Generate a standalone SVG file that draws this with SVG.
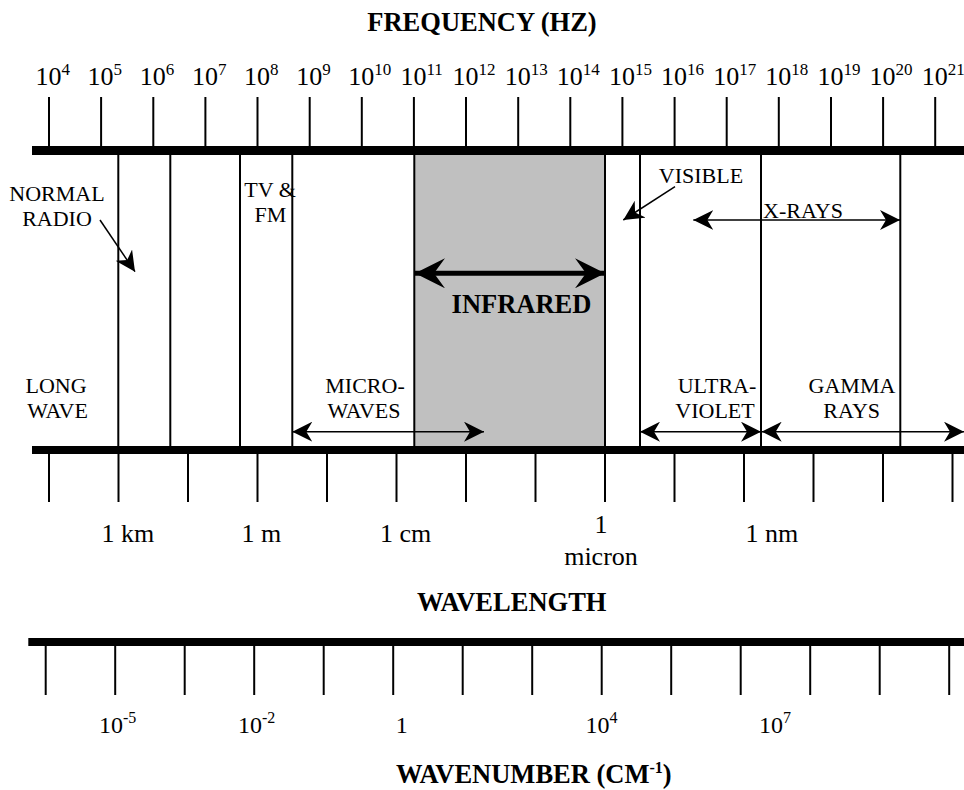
<svg xmlns="http://www.w3.org/2000/svg" width="964" height="790" viewBox="0 0 964 790">
<style>
.t{font-family:"Liberation Serif","Times New Roman",serif;fill:#000}
.lbl{font-size:22px;text-anchor:middle}
.num{font-size:26px}
.wn{font-size:24px}
.sup{font-size:17px}
.ttl{font-size:26.5px;font-weight:bold}
.tk{stroke:#000;stroke-width:2}
.bar{fill:#000}
.ln{stroke:#000;stroke-width:2}
.arr{stroke:#000;stroke-width:1.5;fill:none;marker-start:url(#ah);marker-end:url(#ah)}
.arr1{stroke:#000;stroke-width:1.5;fill:none;marker-end:url(#ah)}
.arrb{stroke:#000;stroke-width:5;fill:none;marker-start:url(#ahb);marker-end:url(#ahb)}
</style>
<defs>
<marker id="ah" viewBox="0 0 20 20" refX="20" refY="10" markerWidth="20" markerHeight="20" markerUnits="userSpaceOnUse" orient="auto-start-reverse">
<path d="M20,10 L0,0 L6,10 L0,20 Z" fill="#000"/>
</marker>
<marker id="ahb" viewBox="0 0 30 30" refX="30" refY="15" markerWidth="30" markerHeight="30" markerUnits="userSpaceOnUse" orient="auto-start-reverse">
<path d="M30,15 L0,0 L11,15 L0,30 Z" fill="#000"/>
</marker>
</defs>
<rect width="964" height="790" fill="#fff"/>

<g id="infrared-band">
<rect x="414" y="155" width="191" height="291" fill="#c0c0c0"/>
</g>

<g id="frequency-axis">
<text class="t ttl" x="482" y="31" text-anchor="middle">FREQUENCY (HZ)</text>
<rect class="bar" x="32" y="146" width="932" height="9"/>
<g class="tk">
<line x1="49" y1="97" x2="49" y2="146"/>
<line x1="101.1" y1="97" x2="101.1" y2="146"/>
<line x1="153.3" y1="97" x2="153.3" y2="146"/>
<line x1="205.4" y1="97" x2="205.4" y2="146"/>
<line x1="257.5" y1="97" x2="257.5" y2="146"/>
<line x1="309.7" y1="97" x2="309.7" y2="146"/>
<line x1="361.8" y1="97" x2="361.8" y2="146"/>
<line x1="413.9" y1="97" x2="413.9" y2="146"/>
<line x1="466" y1="97" x2="466" y2="146"/>
<line x1="518.2" y1="97" x2="518.2" y2="146"/>
<line x1="570.3" y1="97" x2="570.3" y2="146"/>
<line x1="622.4" y1="97" x2="622.4" y2="146"/>
<line x1="674.6" y1="97" x2="674.6" y2="146"/>
<line x1="726.7" y1="97" x2="726.7" y2="146"/>
<line x1="778.8" y1="97" x2="778.8" y2="146"/>
<line x1="831" y1="97" x2="831" y2="146"/>
<line x1="883.1" y1="97" x2="883.1" y2="146"/>
<line x1="935.2" y1="97" x2="935.2" y2="146"/>
</g>
<g class="t num">
<text x="35.5" y="84.5">10<tspan class="sup" dy="-10">4</tspan></text>
<text x="87.6" y="84.5">10<tspan class="sup" dy="-10">5</tspan></text>
<text x="139.8" y="84.5">10<tspan class="sup" dy="-10">6</tspan></text>
<text x="191.9" y="84.5">10<tspan class="sup" dy="-10">7</tspan></text>
<text x="244" y="84.5">10<tspan class="sup" dy="-10">8</tspan></text>
<text x="296.2" y="84.5">10<tspan class="sup" dy="-10">9</tspan></text>
<text x="348.3" y="84.5">10<tspan class="sup" dy="-10">10</tspan></text>
<text x="400.4" y="84.5">10<tspan class="sup" dy="-10">11</tspan></text>
<text x="452.5" y="84.5">10<tspan class="sup" dy="-10">12</tspan></text>
<text x="504.7" y="84.5">10<tspan class="sup" dy="-10">13</tspan></text>
<text x="556.8" y="84.5">10<tspan class="sup" dy="-10">14</tspan></text>
<text x="608.9" y="84.5">10<tspan class="sup" dy="-10">15</tspan></text>
<text x="661.1" y="84.5">10<tspan class="sup" dy="-10">16</tspan></text>
<text x="713.2" y="84.5">10<tspan class="sup" dy="-10">17</tspan></text>
<text x="765.3" y="84.5">10<tspan class="sup" dy="-10">18</tspan></text>
<text x="817.5" y="84.5">10<tspan class="sup" dy="-10">19</tspan></text>
<text x="869.6" y="84.5">10<tspan class="sup" dy="-10">20</tspan></text>
<text x="921.7" y="84.5">10<tspan class="sup" dy="-10">21</tspan></text>
</g>
</g>

<g id="band-dividers" class="ln">
<line x1="118.3" y1="155" x2="118.3" y2="446"/>
<line x1="170.3" y1="155" x2="170.3" y2="446"/>
<line x1="240" y1="155" x2="240" y2="446"/>
<line x1="292.3" y1="155" x2="292.3" y2="446"/>
<line x1="414.3" y1="155" x2="414.3" y2="446"/>
<line x1="605" y1="155" x2="605" y2="446"/>
<line x1="640" y1="155" x2="640" y2="446"/>
<line x1="761" y1="155" x2="761" y2="446"/>
<line x1="900.3" y1="155" x2="900.3" y2="446"/>
</g>

<g id="normal-radio"><text class="t lbl" x="57" y="201">NORMAL</text><text class="t lbl" x="57" y="226">RADIO</text></g>
<g id="tv-fm"><text class="t lbl" x="270" y="196.7">TV &amp;</text><text class="t lbl" x="270.5" y="221.7">FM</text></g>
<g id="visible"><text class="t lbl" x="701" y="182.7">VISIBLE</text></g>
<g id="x-rays"><text class="t lbl" x="803" y="218.3">X-RAYS</text></g>
<g id="infrared"><text class="t ttl" x="521.5" y="312.5" text-anchor="middle">INFRARED</text></g>
<g id="long-wave"><text class="t lbl" x="56" y="393.3">LONG</text><text class="t lbl" x="57.5" y="418.3">WAVE</text></g>
<g id="microwaves"><text class="t lbl" x="365" y="393.3">MICRO-</text><text class="t lbl" x="364" y="418.3">WAVES</text></g>
<g id="ultraviolet"><text class="t lbl" x="717" y="393.3">ULTRA-</text><text class="t lbl" x="715" y="418.3">VIOLET</text></g>
<g id="gamma-rays"><text class="t lbl" x="852" y="393.3">GAMMA</text><text class="t lbl" x="851.7" y="418.3">RAYS</text></g>

<g id="connectors">
<line class="arr1" x1="100" y1="220" x2="135" y2="271.7"/>
<line class="arr1" x1="675" y1="186.7" x2="623.3" y2="220"/>
<line class="arr" x1="693.3" y1="220" x2="900" y2="220"/>
<line class="arrb" x1="415" y1="273.3" x2="605" y2="273.3"/>
<line class="arr" x1="292.3" y1="431.7" x2="484" y2="431.7"/>
<line class="arr" x1="640" y1="431.7" x2="761" y2="431.7"/>
<line class="arr" x1="761.7" y1="431.7" x2="964" y2="431.7"/>
</g>

<g id="wavelength-axis">
<rect class="bar" x="32" y="446" width="932" height="8"/>
<g class="tk">
<line x1="49" y1="454" x2="49" y2="502"/>
<line x1="118.5" y1="454" x2="118.5" y2="502"/>
<line x1="188" y1="454" x2="188" y2="502"/>
<line x1="257.5" y1="454" x2="257.5" y2="502"/>
<line x1="327" y1="454" x2="327" y2="502"/>
<line x1="396.5" y1="454" x2="396.5" y2="502"/>
<line x1="466" y1="454" x2="466" y2="502"/>
<line x1="535.5" y1="454" x2="535.5" y2="502"/>
<line x1="605" y1="454" x2="605" y2="502"/>
<line x1="674.5" y1="454" x2="674.5" y2="502"/>
<line x1="744" y1="454" x2="744" y2="502"/>
<line x1="813.5" y1="454" x2="813.5" y2="502"/>
<line x1="883" y1="454" x2="883" y2="502"/>
<line x1="952.5" y1="454" x2="952.5" y2="502"/>
</g>
<g class="t num">
<text x="101.5" y="541.7">1 km</text>
<text x="241.5" y="541.7">1 m</text>
<text x="380" y="541.7">1 cm</text>
<text x="601" y="533.3" text-anchor="middle">1</text>
<text x="601" y="565" text-anchor="middle">micron</text>
<text x="745.5" y="541.7">1 nm</text>
</g>
<text class="t ttl" x="511.7" y="611" text-anchor="middle">WAVELENGTH</text>
</g>

<g id="wavenumber-axis">
<rect class="bar" x="28.3" y="638" width="935.7" height="8"/>
<g class="tk">
<line x1="45.7" y1="646" x2="45.7" y2="695"/>
<line x1="115.2" y1="646" x2="115.2" y2="695"/>
<line x1="184.7" y1="646" x2="184.7" y2="695"/>
<line x1="254.2" y1="646" x2="254.2" y2="695"/>
<line x1="323.7" y1="646" x2="323.7" y2="695"/>
<line x1="393.2" y1="646" x2="393.2" y2="695"/>
<line x1="462.7" y1="646" x2="462.7" y2="695"/>
<line x1="532.2" y1="646" x2="532.2" y2="695"/>
<line x1="601.7" y1="646" x2="601.7" y2="695"/>
<line x1="671.2" y1="646" x2="671.2" y2="695"/>
<line x1="740.7" y1="646" x2="740.7" y2="695"/>
<line x1="810.2" y1="646" x2="810.2" y2="695"/>
<line x1="879.7" y1="646" x2="879.7" y2="695"/>
<line x1="949.2" y1="646" x2="949.2" y2="695"/>
</g>
<g class="t wn">
<text x="99" y="733.3">10<tspan font-size="16" dy="-10">-5</tspan></text>
<text x="238" y="733.3">10<tspan font-size="16" dy="-10">-2</tspan></text>
<text x="401.7" y="733.3" text-anchor="middle">1</text>
<text x="585.6" y="733.3">10<tspan font-size="16" dy="-10">4</tspan></text>
<text x="759" y="733.3">10<tspan font-size="16" dy="-10">7</tspan></text>
</g>
<text class="t ttl" x="396" y="783">WAVENUMBER (CM<tspan font-size="16" dy="-10">-1</tspan><tspan dy="10">)</tspan></text>
</g>
</svg>
